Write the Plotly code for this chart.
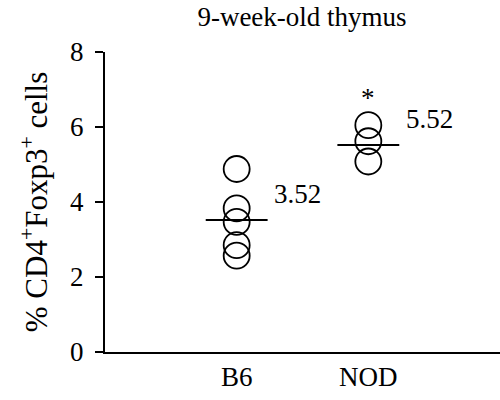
import plotly.graph_objects as go

groups = ["B6", "NOD"]
group_pos = [1, 2]
b6_values = [4.88, 3.83, 3.47, 2.85, 2.57]
nod_values = [6.05, 5.62, 5.08]
means = [3.52, 5.52]
mean_labels = ["3.52", "5.52"]
sig_marks = ["", "*"]
y_ticks = [0, 2, 4, 6, 8]

FONT = "Liberation Serif"
fig = go.Figure()

for pos, vals in zip(group_pos, [b6_values, nod_values]):
    fig.add_trace(go.Scatter(
        x=[pos] * len(vals), y=vals, mode="markers",
        marker=dict(symbol="circle-open", size=26, color="black", line=dict(width=1.8)),
        showlegend=False, hoverinfo="y"))

half = 0.235
for pos, m, lab, sig, vals in zip(group_pos, means, mean_labels, sig_marks, [b6_values, nod_values]):
    fig.add_trace(go.Scatter(
        x=[pos - half, pos + half], y=[m, m], mode="lines",
        line=dict(color="black", width=2), showlegend=False, hoverinfo="skip"))
    fig.add_annotation(x=pos + 0.27, y=m + 0.7, text=lab, showarrow=False,
                       xanchor="left", yanchor="middle",
                       font=dict(family=FONT, size=27, color="black"))
    if sig:
        fig.add_annotation(x=pos, y=max(vals) + 0.72, text=sig, showarrow=False,
                           xanchor="center", yanchor="middle",
                           font=dict(family=FONT, size=27, color="black"))

fig.update_layout(
    width=500, height=400,
    margin=dict(l=105, r=0, t=52, b=48, autoexpand=False),
    paper_bgcolor="white", plot_bgcolor="white",
    font=dict(family=FONT, size=27, color="black"),
    title=dict(text="9-week-old thymus", x=0.604, xanchor="center", y=0.958, yanchor="middle",
               font=dict(family=FONT, size=27, color="black")),
    xaxis=dict(range=[0, 3], tickmode="array", tickvals=group_pos, ticktext=groups,
               showline=True, linecolor="black", linewidth=2, ticks="", automargin=False,
               showgrid=False, zeroline=False, tickfont=dict(family=FONT, size=27)),
    yaxis=dict(range=[0, 8], tickmode="array", tickvals=y_ticks, automargin=False,
               showline=True, linecolor="black", linewidth=2, ticks="outside",
               ticklen=8, tickwidth=2, tickcolor="black", ticklabelstandoff=6,
               showgrid=False, zeroline=False, tickfont=dict(family=FONT, size=27),
               title=dict(text="% CD4<sup>+</sup>Foxp3<sup>+</sup> cells",
                          font=dict(family=FONT, size=31), standoff=13)),
)

fig.write_html("out.html", config={"displayModeBar": False},
               post_script="document.body.style.margin='0';document.body.style.overflow='hidden';")
